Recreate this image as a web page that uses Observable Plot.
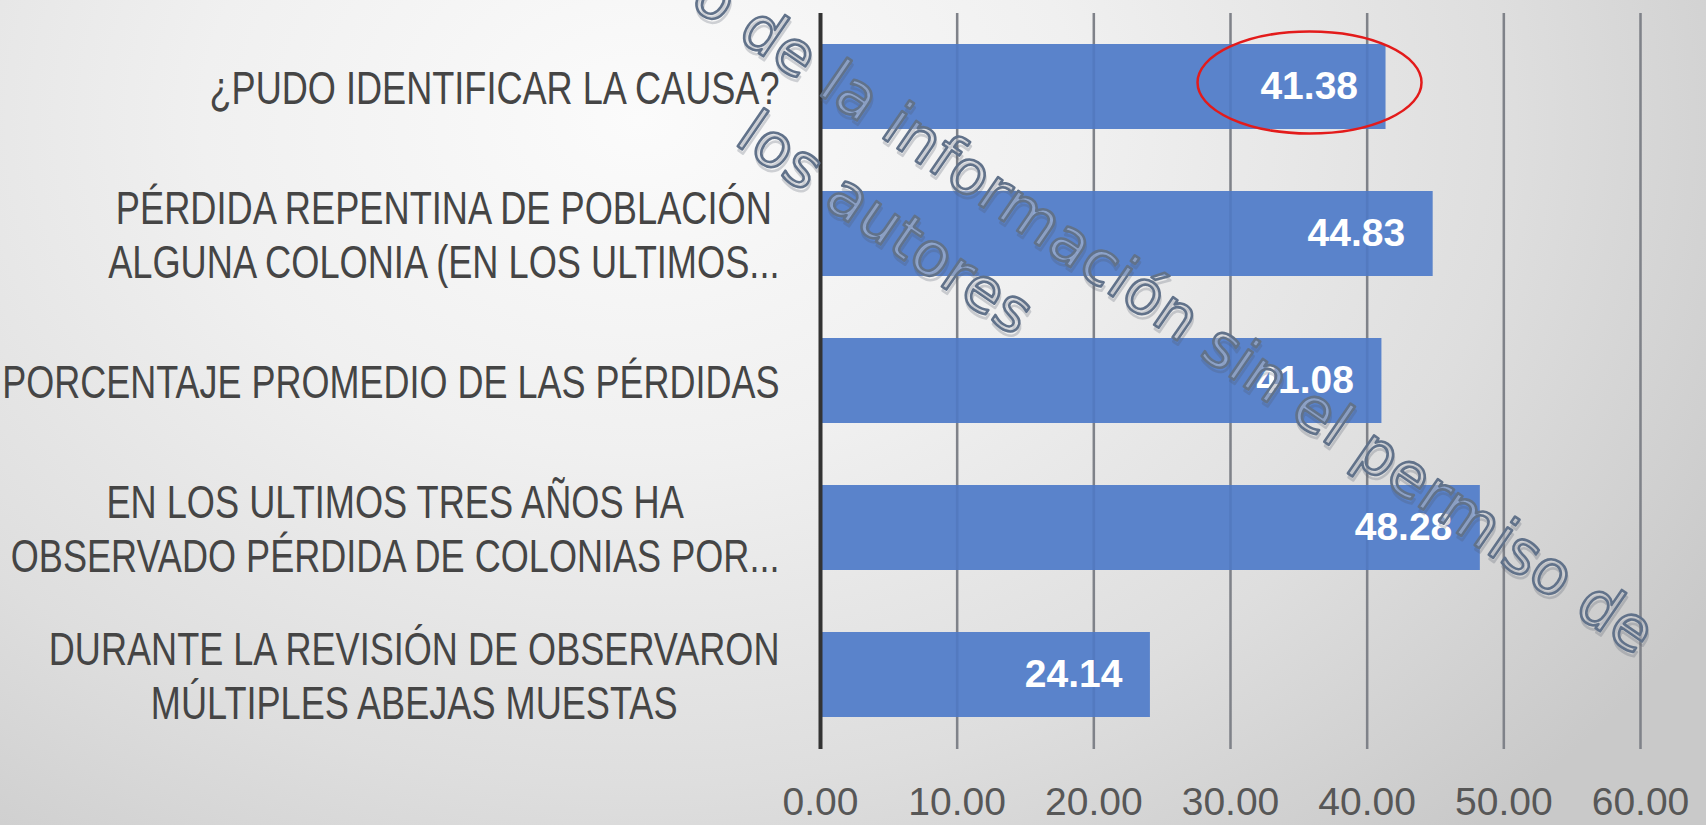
<!DOCTYPE html>
<html>
<head>
<meta charset="utf-8">
<script src="https://cdn.jsdelivr.net/npm/d3@7"></script>
<script src="https://cdn.jsdelivr.net/npm/@observablehq/plot@0.6"></script>
<style>
  html, body { margin: 0; padding: 0; }
  #chart {
    width: 1706px; height: 825px; overflow: hidden;
    background: radial-gradient(ellipse 1250px 950px at 640px 120px, #fbfbfb 0%, #f0f0f0 35%, #dedede 70%, #c9c9c9 100%);
  }
  #chart svg { display: block; background: transparent; }
</style>
</head>
<body>
<div id="chart"></div>
<script>
const categories = [
  "¿PUDO IDENTIFICAR LA CAUSA?",
  "PÉRDIDA REPENTINA DE POBLACIÓN\nALGUNA COLONIA (EN LOS ULTIMOS...",
  "PORCENTAJE PROMEDIO DE LAS PÉRDIDAS",
  "EN LOS ULTIMOS TRES AÑOS HA\nOBSERVADO PÉRDIDA DE COLONIAS POR...",
  "DURANTE LA REVISIÓN DE OBSERVARON\nMÚLTIPLES ABEJAS MUESTAS"
];
const values = [41.38, 44.83, 41.08, 48.28, 24.14];
const xTicks = [0, 10, 20, 30, 40, 50, 60];
const highlighted = "¿PUDO IDENTIFICAR LA CAUSA?";
const watermarkLine1 = "o de la información sin el permiso de";
const watermarkLine2 = "los autores";

const data = categories.map((c, i) => ({cat: c, value: values[i]}));

const W = 1706, H = 825;
const mL = 820, mR = 66, mT = 13, mB = 76;
const font = '"Liberation Sans", Arimo, Arial, sans-serif';
const labelSize = 46;
const refLabelWidth = 570; // drawn width of the first label in the reference

// labels use a horizontally condensed Liberation Sans (Calibri-like proportions)
const ctx = document.createElement("canvas").getContext("2d");
ctx.font = `${labelSize}px ${font}`;
const squeeze = refLabelWidth / ctx.measureText(categories[0]).width;
const lineWidths = new Map();
categories.forEach(c => c.split("\n").forEach(l => lineWidths.set(l, ctx.measureText(l).width * squeeze)));
function blockWidth(s) { return Math.max(...s.split("\n").map(l => lineWidths.get(l))); }

const labelMarks = categories.map(c => Plot.text([c], {
  y: d => d,
  text: d => d,
  frameAnchor: "left",
  dx: -(41 + blockWidth(c) / 2),
  textAnchor: "middle",
  lineHeight: 1.17,
  fontSize: labelSize,
  fontFamily: font,
  fill: "#454545"
}));

const plot = Plot.plot({
  width: W, height: H,
  marginLeft: mL, marginRight: mR, marginTop: mT, marginBottom: mB,
  style: {fontFamily: font, fontSize: "39px", color: "#575757", background: "transparent"},
  x: {domain: [0, 60], ticks: xTicks, tickFormat: d => d.toFixed(2), tickSize: 0, tickPadding: 38, label: null},
  y: {domain: categories, paddingInner: 0.42, paddingOuter: 0.21, axis: null},
  marks: [
    Plot.ruleX(xTicks.slice(1), {stroke: "#8c8c8c", strokeWidth: 2.5}),
    Plot.barX(data, {x: "value", y: "cat", fill: "#5a83cb"}),
    Plot.ruleX(xTicks.slice(1), {stroke: "#1f3a70", strokeOpacity: 0.12, strokeWidth: 2.5}),
    Plot.ruleX([0], {stroke: "#333", strokeWidth: 4}),
    Plot.text(data, {x: "value", y: "cat", text: d => d.value.toFixed(2), textAnchor: "end", dx: -28,
      fill: "white", fontWeight: "bold", fontSize: 39, fontFamily: font}),
    ...labelMarks
  ]
});

document.getElementById("chart").appendChild(plot);

// condense the category label lines
plot.querySelectorAll("text, tspan").forEach(el => {
  if (el.tagName === "text" && el.querySelector("tspan")) return;
  const w = lineWidths.get(el.textContent);
  if (w) { el.setAttribute("textLength", w); el.setAttribute("lengthAdjust", "spacingAndGlyphs"); }
});

// annotations positioned through the plot's own scales
const xs = plot.scale("x"), ys = plot.scale("y");
const svg = d3.select(plot);
const bw = ys.bandwidth;
const hy = ys.apply(highlighted) + bw / 2 - 4;
const hx = xs.apply(values[categories.indexOf(highlighted)]) - 76;
svg.append("ellipse")
  .attr("cx", hx).attr("cy", hy)
  .attr("rx", 112).attr("ry", 51)
  .attr("fill", "none").attr("stroke", "#e31b1b").attr("stroke-width", 2.5);

// watermark
const wmFont = '"DejaVu Sans", Verdana, sans-serif';
const wm = svg.append("g").attr("pointer-events", "none");
function wmText(txt, x, y, anchor, len) {
  const g = wm.append("g").attr("transform", `translate(${x},${y}) rotate(34.5)`);
  [["#4f5866", 0.25, 3, 3, "none"], ["#61728a", 1, 0, 0, "rgba(205,207,212,0.45)"]].forEach(([stroke, op, ox, oy, fill]) => {
    g.append("text")
      .attr("x", ox).attr("y", oy)
      .attr("text-anchor", anchor)
      .attr("font-family", wmFont)
      .attr("font-size", 61)
      .attr("fill", fill)
      .attr("stroke", stroke).attr("stroke-opacity", op)
      .attr("stroke-width", 2.6).attr("stroke-linejoin", "round")
      .attr("textLength", len).attr("lengthAdjust", "spacing")
      .text(txt);
  });
}
wmText(watermarkLine1, 1636, 656, "end", 1150);
wmText(watermarkLine2, 733, 143, "start", 342);
</script>
</body>
</html>
